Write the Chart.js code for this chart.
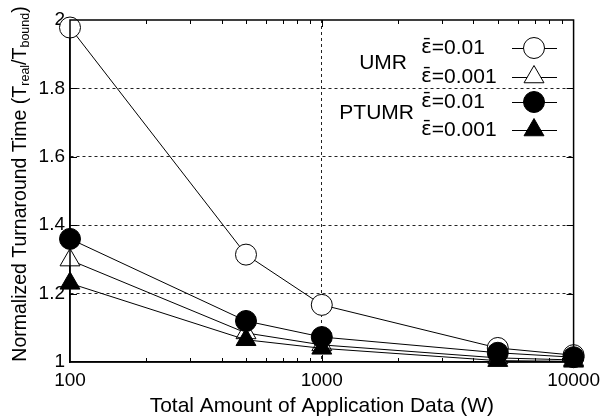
<!DOCTYPE html>
<html>
<head>
<meta charset="utf-8">
<script src="https://cdn.jsdelivr.net/npm/chart.js"></script>
<style>
  html, body { margin: 0; padding: 0; background: #fff; }
  #grafico { display: block; }
</style>
</head>
<body>
<canvas id="grafico" width="607" height="418"></canvas>
<script>
// dados
const dadosW = [100, 500, 1000, 5000, 10000];
const umr001 = [1.978, 1.314, 1.167, 1.041, 1.020];
const umr0001 = [1.298, 1.085, 1.050, 1.012, 1.006];
const ptumr001 = [1.360, 1.120, 1.073, 1.027, 1.014];
const ptumr0001 = [1.230, 1.065, 1.040, 1.004, 1.002];

const ticksX = [100, 1000, 10000];
const ticksXMenores = [200, 300, 400, 500, 600, 700, 800, 900, 2000, 3000, 4000, 5000, 6000, 7000, 8000, 9000];
const ticksY = [1, 1.2, 1.4, 1.6, 1.8, 2];

const gruposLegenda = ["UMR", "PTUMR"];
const simboloEps = "ε̄";
const valoresEps = ["=0.01", "=0.001", "=0.01", "=0.001"];

const FONTE = "'Liberation Sans', 'DejaVu Sans', Arial, sans-serif";

function pontos(valores) {
    return dadosW.map((w, i) => ({ x: w, y: valores[i] }));
}

// desenha um marcador igual ao do Chart.js (círculo ou triângulo)
function desenhaMarcador(ctx, estilo, r, x, y, preenchido) {
    ctx.beginPath();
    if (estilo === "circle") {
        ctx.arc(x, y, r, 0, Math.PI * 2);
    } else {
        ctx.moveTo(x, y - r);
        ctx.lineTo(x + Math.sin(2 * Math.PI / 3) * r, y - Math.cos(2 * Math.PI / 3) * r);
        ctx.lineTo(x - Math.sin(2 * Math.PI / 3) * r, y - Math.cos(2 * Math.PI / 3) * r);
        ctx.closePath();
    }
    ctx.fillStyle = preenchido ? "#000" : "#fff";
    ctx.fill();
    ctx.lineWidth = 1;
    ctx.strokeStyle = "#000";
    ctx.stroke();
}

// moldura, ticks internos, títulos dos eixos e legenda
const extras = {
    id: "extras",
    afterDatasetsDraw(chart) {
        const { ctx, chartArea: a, scales: { x, y } } = chart;
        ctx.save();

        // ticks para dentro
        ctx.strokeStyle = "#000";
        ctx.lineWidth = 1;
        ctx.beginPath();
        ticksY.slice(1, -1).forEach(v => {
            const py = Math.round(y.getPixelForValue(v)) + 0.5;
            ctx.moveTo(a.left, py); ctx.lineTo(a.left + 7, py);
            ctx.moveTo(a.right, py); ctx.lineTo(a.right - 7, py);
        });
        const px1000 = Math.round(x.getPixelForValue(1000)) + 0.5;
        ctx.moveTo(px1000, a.bottom); ctx.lineTo(px1000, a.bottom - 7);
        ctx.moveTo(px1000, a.top); ctx.lineTo(px1000, a.top + 7);
        ticksXMenores.forEach(v => {
            const px = Math.round(x.getPixelForValue(v)) + 0.5;
            ctx.moveTo(px, a.bottom); ctx.lineTo(px, a.bottom - 4);
            ctx.moveTo(px, a.top); ctx.lineTo(px, a.top + 4);
        });
        ctx.stroke();

        // moldura
        ctx.lineWidth = 1.5;
        ctx.strokeRect(a.left, a.top, a.right - a.left, a.bottom - a.top);

        // título do eixo X
        ctx.fillStyle = "#000";
        ctx.font = "21px " + FONTE;
        ctx.textAlign = "center";
        ctx.textBaseline = "middle";
        ctx.fillText("Total Amount of Application Data (W)", (a.left + a.right) / 2, 406);

        // título do eixo Y com subscritos
        const partes = [
            { t: "Normalized Turnaround Time (T", sub: false },
            { t: "real", sub: true },
            { t: "/T", sub: false },
            { t: "bound", sub: true },
            { t: ")", sub: false }
        ];
        const fonteNormal = "19.5px " + FONTE;
        const fonteSub = "12.5px " + FONTE;
        let total = 0;
        partes.forEach(p => {
            ctx.font = p.sub ? fonteSub : fonteNormal;
            p.w = ctx.measureText(p.t).width;
            total += p.w;
        });
        ctx.translate(19, 184);
        ctx.rotate(-Math.PI / 2);
        ctx.textAlign = "left";
        ctx.textBaseline = "alphabetic";
        let pos = -total / 2;
        partes.forEach(p => {
            ctx.font = p.sub ? fonteSub : fonteNormal;
            ctx.fillText(p.t, pos, p.sub ? 10 : 7);
            pos += p.w;
        });
        ctx.setTransform(1, 0, 0, 1, 0, 0);

        // legenda
        const linhasY = [48, 77, 102, 130];
        ctx.font = "21px " + FONTE;
        ctx.textBaseline = "middle";
        ctx.textAlign = "right";
        ctx.fillStyle = "#000";
        ctx.fillText(gruposLegenda[0], 407, 63);
        ctx.fillText(gruposLegenda[1], 414, 113);
        ctx.textAlign = "left";
        chart.data.datasets.forEach((ds, i) => {
            const ly = linhasY[i];
            ctx.fillStyle = "#000";
            ctx.font = "20px 'DejaVu Sans', sans-serif";
            ctx.fillText(simboloEps, 421, ly);
            const wEps = ctx.measureText("ε").width;
            ctx.font = "21px " + FONTE;
            ctx.fillText(valoresEps[i], 421 + wEps, ly);
            ctx.beginPath();
            ctx.lineWidth = 1;
            ctx.strokeStyle = "#000";
            ctx.moveTo(512, ly + 0.5);
            ctx.lineTo(557, ly + 0.5);
            ctx.stroke();
            desenhaMarcador(ctx, ds.pointStyle, ds.pointRadius, 534, ly, ds.pointBackgroundColor === "#000");
        });

        ctx.restore();
    }
};

new Chart(document.getElementById("grafico").getContext("2d"), {
    type: "line",
    data: {
        datasets: [
            {
                label: "UMR ε̄=0.01",
                data: pontos(umr001),
                borderColor: "#000", borderWidth: 1,
                pointStyle: "circle", pointRadius: 10.5,
                pointBackgroundColor: "#fff", pointBorderColor: "#000", pointBorderWidth: 1,
                clip: false, order: 4
            },
            {
                label: "UMR ε̄=0.001",
                data: pontos(umr0001),
                borderColor: "#000", borderWidth: 1,
                pointStyle: "triangle", pointRadius: 11.5,
                pointBackgroundColor: "#fff", pointBorderColor: "#000", pointBorderWidth: 1,
                clip: false, order: 3
            },
            {
                label: "PTUMR ε̄=0.01",
                data: pontos(ptumr001),
                borderColor: "#000", borderWidth: 1,
                pointStyle: "circle", pointRadius: 10.5,
                pointBackgroundColor: "#000", pointBorderColor: "#000", pointBorderWidth: 1,
                clip: false, order: 2
            },
            {
                label: "PTUMR ε̄=0.001",
                data: pontos(ptumr0001),
                borderColor: "#000", borderWidth: 1,
                pointStyle: "triangle", pointRadius: 11.5,
                pointBackgroundColor: "#000", pointBorderColor: "#000", pointBorderWidth: 1,
                clip: false, order: 1
            }
        ]
    },
    options: {
        responsive: false,
        animation: false,
        layout: { padding: { top: 20, right: 33, left: 0, bottom: 0 } },
        plugins: {
            legend: { display: false },
            tooltip: { enabled: false }
        },
        scales: {
            x: {
                type: "logarithmic",
                min: 100,
                max: 10000,
                afterBuildTicks: (s) => { s.ticks = ticksX.map(v => ({ value: v })); },
                afterFit: (s) => { s.height = 56; },
                ticks: {
                    color: "#000",
                    font: { family: FONTE, size: 19 },
                    padding: 7,
                    maxRotation: 0,
                    autoSkip: false,
                    callback: (v) => String(v)
                },
                grid: {
                    drawTicks: false,
                    lineWidth: 1,
                    color: (c) => (c.tick && c.tick.value === 1000) ? "#222" : "transparent"
                },
                border: { display: true, color: "#000", width: 1.5, dash: [3, 3] }
            },
            y: {
                min: 1,
                max: 2,
                afterBuildTicks: (s) => { s.ticks = ticksY.map(v => ({ value: v })); },
                afterFit: (s) => { s.width = 70; },
                ticks: {
                    color: "#000",
                    font: { family: FONTE, size: 19 },
                    padding: 5,
                    callback: (v) => String(v)
                },
                grid: {
                    drawTicks: false,
                    lineWidth: 1,
                    color: (c) => (c.tick && c.tick.value > 1 && c.tick.value < 2) ? "#222" : "transparent"
                },
                border: { display: true, color: "#000", width: 1.5, dash: [3, 3] }
            }
        }
    },
    plugins: [extras]
});
</script>
</body>
</html>
